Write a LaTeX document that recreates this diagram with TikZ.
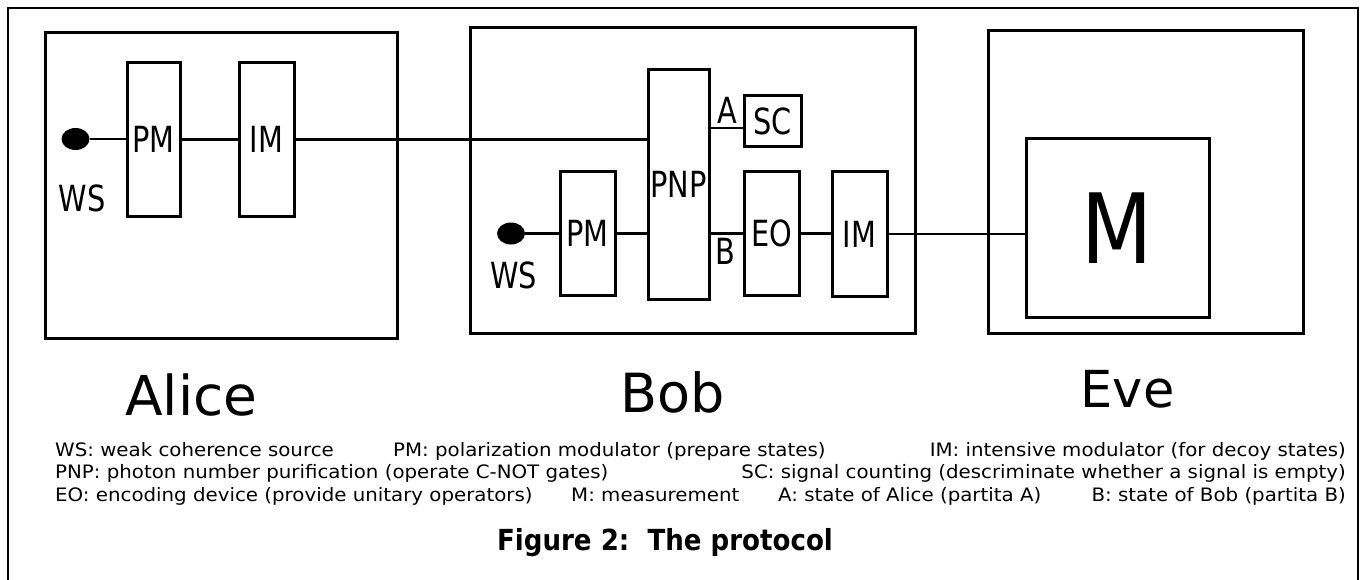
\documentclass[tikz,border=0pt]{standalone}
\usepackage{fontspec}
\setmainfont{DejaVu Sans}
\newfontfamily\narrowfont[FakeStretch=0.8]{DejaVu Sans}
\newfontfamily\bigmfont[FakeStretch=0.85]{DejaVu Sans}
\newfontfamily\headfont[FakeStretch=0.9]{DejaVu Sans}
\newfontfamily\keyfont[FakeStretch=1.07]{DejaVu Sans}
\usetikzlibrary{shapes.geometric}
\tikzset{
  outerframe/.style={line width=2pt, draw=black},
  partybox/.style={draw=black, line width=3pt, inner sep=0pt},
  devbox/.style={draw=black, line width=3pt, inner sep=0pt, minimum width=55pt, font=\narrowfont\fontsize{36}{36}\selectfont},
  source/.style={ellipse, fill=black, minimum width=28pt, minimum height=22pt, inner sep=0pt},
  portlabel/.style={inner sep=0pt, font=\narrowfont\fontsize{36}{36}\selectfont},
  partylabel/.style={anchor=base, inner sep=0pt},
  keytext/.style={anchor=base west, inner sep=0pt, font=\keyfont\fontsize{18.5}{18.5}\selectfont},
  wire/.style={line width=2.6pt, draw=black},
}
\begin{document}
\begin{tikzpicture}[x=1pt,y=-1pt]
\useasboundingbox (0,0) rectangle (1364,580);
\draw[outerframe] (8,580) -- (8,8) -- (1358,8) -- (1358,580);
\node[partybox, minimum width=352pt, minimum height=305pt] (alice) at (221,185.5) {};
\node[partybox, minimum width=445pt, minimum height=305pt] (bob) at (692.5,180.5) {};
\node[partybox, minimum width=315pt, minimum height=302pt] (eve) at (1145.5,182) {};
\node[source] (aws) at (75.5,139) {};
\node[portlabel] (awslabel) at (82,198.5) {WS};
\node[devbox, minimum width=53pt, minimum height=153pt] (apm) at (153.5,139.5) {PM};
\node[devbox, minimum height=153pt] (aim) at (266.5,139.5) {IM};
\node[devbox, minimum width=61pt, minimum height=229pt] (pnp) at (678.5,184.5) {PNP};
\node[devbox, minimum width=57pt, minimum height=51pt] (sc) at (772.5,121.5) {SC};
\node[portlabel] (alabel) at (727,110) {A};
\node[portlabel] (blabel) at (725,251.5) {B};
\node[source] (bws) at (511,233.5) {};
\node[portlabel] (bwslabel) at (513.5,275) {WS};
\node[devbox, minimum height=123pt] (bpm) at (587.5,233.5) {PM};
\node[devbox, minimum height=123pt] (eo) at (771.5,233.5) {EO};
\node[devbox, minimum height=124pt] (bim) at (859.5,234) {IM};
\node[partybox, minimum width=183pt, minimum height=178pt, font=\bigmfont\fontsize{97}{97}\selectfont] (mbox) at (1117.5,228) {M};
\draw[wire] (aws.east) -- (aws.east -| apm.west);
\draw[wire] (apm.east) -- (apm.east -| aim.west);
\draw[wire] (aim.east) -- (aim.east -| pnp.west);
\draw[wire] (pnp.east |- 0,128) -- (sc.west |- 0,128);
\draw[wire] (bws.east) -- (bws.east -| bpm.west);
\draw[wire] (bpm.east) -- (bpm.east -| pnp.west);
\draw[wire] (pnp.east |- eo.west) -- (eo.west);
\draw[wire] (eo.east) -- (eo.east -| bim.west);
\draw[wire] (bim.east) -- (bim.east -| mbox.west);
\node[partylabel, font=\fontsize{55}{55}\selectfont] (alicename) at (191.5,415) {Alice};
\node[partylabel, font=\fontsize{54}{54}\selectfont] (bobname) at (672.5,412) {Bob};
\node[partylabel, font=\fontsize{51}{51}\selectfont] (evename) at (1127.5,407) {Eve};
\node[keytext] (kws) at (55,456) {WS: weak coherence source};
\node[keytext] (kpm) at (393,456) {PM: polarization modulator (prepare states)};
\node[keytext, anchor=base east] (kim) at (1346,456) {IM: intensive modulator (for decoy states)};
\node[keytext] (kpnp) at (55,478) {PNP: photon number purification (operate C-NOT gates)};
\node[keytext, anchor=base east] (ksc) at (1346,478) {SC: signal counting (descriminate whether a signal is empty)};
\node[keytext] (keo) at (55,501) {EO: encoding device (provide unitary operators)};
\node[keytext] (km) at (571,501) {M: measurement};
\node[keytext] (ka) at (778,501) {A: state of Alice (partita A)};
\node[keytext, anchor=base east] (kb) at (1346,501) {B: state of Bob (partita B)};
\node[anchor=base, inner sep=0pt, font=\headfont\bfseries\fontsize{29}{29}\selectfont] (caption) at (665,550) {Figure 2:\ \ The protocol};
\end{tikzpicture}
\end{document}
